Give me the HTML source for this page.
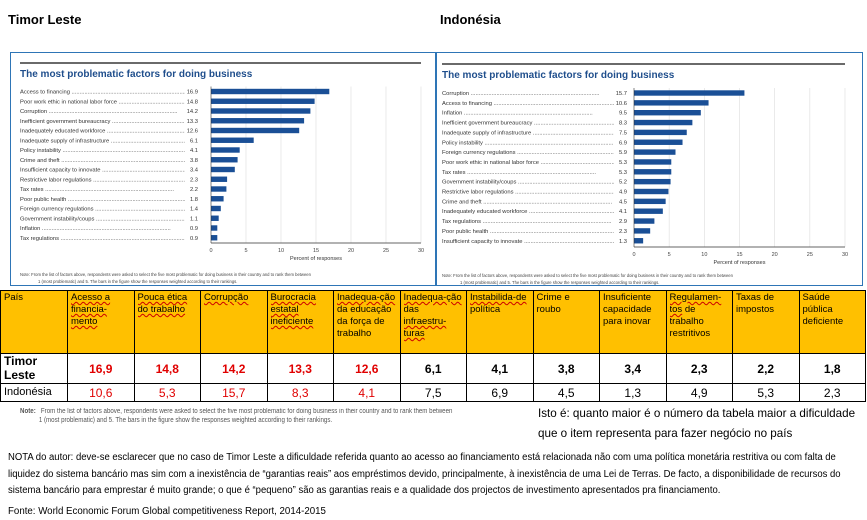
<!DOCTYPE html>
<html><head><meta charset="utf-8">
<style>
body{margin:0;width:867px;height:520px;background:#fff;position:relative;overflow:hidden;font-family:"Liberation Sans",sans-serif}
.abs{position:absolute;white-space:nowrap}
.h{font-weight:bold;font-size:13px}
.panel{position:absolute;border:1px solid #2e75b6;top:52px;height:232px}
.sq{display:inline-block;transform-origin:0 0}
table{position:absolute;left:0;top:290px;border-collapse:collapse;table-layout:fixed;width:865px;font-family:"Liberation Sans",sans-serif}
td{border:1px solid #000;vertical-align:top;padding:0 3px;font-size:9.5px;line-height:12px;overflow:hidden}
td>div{overflow:hidden}
tr.hd td{background:#ffc000}
tr.hd td>div{height:61px;padding-top:1px}
tr.hd td u{text-decoration:underline wavy #c00 1px}
td.v{text-align:center;vertical-align:middle;font-weight:bold;font-size:12px}
td.w{text-align:center;vertical-align:middle;font-size:12px;line-height:16px}
.r{color:#e00000}
</style></head><body>
<div class="abs h" style="left:8px;top:12px">Timor Leste</div>
<div class="abs h" style="left:440px;top:12px">Indonésia</div>
<div class="panel" style="left:10px;width:424px"></div>
<div class="panel" style="left:436px;width:425px"></div>
<svg id="chart" width="867" height="290" style="position:absolute;left:0;top:0"></svg>

<table>
<colgroup><col style="width:67px"><col span="12" style="width:66.5px"></colgroup>
<tr class="hd">
<td><div>País</div></td><td><div><u>Acesso a financia-mento</u></div></td><td><div><u>Pouca ética do trabalho</u></div></td><td><div><u>Corrupção</u></div></td><td><div><u>Burocracia estatal ineficiente</u></div></td><td><div><u>Inadequa-ção</u> da educação da força de trabalho</div></td><td><div><u>Inadequa-ção</u> das <u>infraestru-turas</u></div></td><td><div><u>Instabilida-de</u> política</div></td><td><div>Crime e roubo</div></td><td><div>Insuficiente capacidade para inovar</div></td><td><div><u>Regulamen-tos</u> de trabalho restritivos</div></td><td><div>Taxas de impostos</div></td><td><div>Saúde pública deficiente</div></td></tr>
<tr>
<td style="font-weight:bold;font-size:12px;line-height:14px"><div style="height:29px">Timor Leste</div></td><td class="v r">16,9</td><td class="v r">14,8</td><td class="v r">14,2</td><td class="v r">13,3</td><td class="v r">12,6</td><td class="v">6,1</td><td class="v">4,1</td><td class="v">3,8</td><td class="v">3,4</td><td class="v">2,3</td><td class="v">2,2</td><td class="v">1,8</td></tr>
<tr>
<td style="font-size:11px;line-height:16px"><div style="height:17px">Indonésia</div></td><td class="w r">10,6</td><td class="w r">5,3</td><td class="w r">15,7</td><td class="w r">8,3</td><td class="w r">4,1</td><td class="w">7,5</td><td class="w">6,9</td><td class="w">4,5</td><td class="w">1,3</td><td class="w">4,9</td><td class="w">5,3</td><td class="w">2,3</td></tr>
</table>

<div class="abs" style="left:20px;top:407px;font-size:7px;color:#555;line-height:9px"><span class="sq" style="transform:scaleX(0.88)"><b>Note:</b>&nbsp;&nbsp;&nbsp;From the list of factors above, respondents were asked to select the five most problematic for doing business in their country and to rank them between<br>&nbsp;&nbsp;&nbsp;&nbsp;&nbsp;&nbsp;&nbsp;&nbsp;&nbsp;&nbsp;&nbsp;1 (most problematic) and 5. The bars in the figure show the responses weighted according to their rankings.</span></div>
<div class="abs" style="left:538px;top:403px;font-size:12px;line-height:20px"><span class="sq" style="transform:scaleX(0.97)">Isto é: quanto maior é o número da tabela maior a dificuldade<br>que o item representa para fazer negócio no país</span></div>
<div class="abs" style="left:8px;top:450px;font-size:10px;line-height:16.5px"><span class="sq" style="transform:scaleX(0.95)">NOTA do autor: deve-se esclarecer que no caso de Timor Leste a dificuldade referida quanto ao acesso ao financiamento está relacionada não com uma política monetária restritiva ou com falta de<br>liquidez do sistema bancário mas sim com a inexistência de “garantias reais” aos empréstimos devido, principalmente, à inexistência de uma Lei de Terras. De facto, a disponibilidade de recursos do<br>sistema bancário para emprestar é muito grande; o que é “pequeno” são as garantias reais e a qualidade dos projectos de investimento apresentados pra financiamento.</span></div>
<div class="abs" style="left:8px;top:506px;font-size:10px"><span class="sq" style="transform:scaleX(0.97)">Fonte: World Economic Forum Global competitiveness Report, 2014-2015</span></div>

<script>
const timorLabels=["Access to financing","Poor work ethic in national labor force","Corruption","Inefficient government bureaucracy","Inadequately educated workforce","Inadequate supply of infrastructure","Policy instability","Crime and theft","Insufficient capacity to innovate","Restrictive labor regulations","Tax rates","Poor public health","Foreign currency regulations","Government instability/coups","Inflation","Tax regulations"];
const timorValues=[16.9,14.8,14.2,13.3,12.6,6.1,4.1,3.8,3.4,2.3,2.2,1.8,1.4,1.1,0.9,0.9];
const indoLabels=["Corruption","Access to financing","Inflation","Inefficient government bureaucracy","Inadequate supply of infrastructure","Policy instability","Foreign currency regulations","Poor work ethic in national labor force","Tax rates","Government instability/coups","Restrictive labor regulations","Crime and theft","Inadequately educated workforce","Tax regulations","Poor public health","Insufficient capacity to innovate"];
const indoValues=[15.7,10.6,9.5,8.3,7.5,6.9,5.9,5.3,5.3,5.2,4.9,4.5,4.1,2.9,2.3,1.3];
const tickLabels=[0,5,10,15,20,25,30];
const NS="http://www.w3.org/2000/svg";
const svg=document.getElementById('chart');
function mk(tag,attrs,txt){const e=document.createElementNS(NS,tag);for(const k in attrs)e.setAttribute(k,attrs[k]);if(txt!==undefined)e.textContent=txt;svg.appendChild(e);return e;}
function draw(labels,values,o,prefix){
  const x=v=>o.x0+(o.x1-o.x0)*v/30;
  const y=i=>o.y0+i*o.dy;
  let e=mk('line',{x1:o.lx,x2:o.x1,y1:o.rule,y2:o.rule,stroke:'#111','stroke-width':1.3});
  
  
  e=mk('text',{x:o.lx,y:o.rule+14,'font-size':10,'font-weight':'bold',fill:'#1f4e8c'},'The most problematic factors for doing business');
  
  
  values.forEach((v,i)=>{
    const l=mk('text',{x:o.lx,y:y(i)+2,'font-size':5.8,fill:'#333'},labels[i]+' '+'.'.repeat(80));
    
    
    const m=mk('rect',{x:o.vx-13,y:y(i)-4,width:14,height:8,fill:'#fff'});
    
    
    const t=mk('text',{x:o.vx,y:y(i)+2,'font-size':5.8,fill:'#333','text-anchor':'end'},v.toFixed(1));
    
    
  });
  const cover=mk('rect',{x:o.vx+1,y:o.y0-6,width:x(0)-o.vx+40,height:o.dy*16+4,fill:'#fff'});
  
  
  tickLabels.forEach(t=>{
    if(t>0){const g=mk('line',{x1:x(t),x2:x(t),y1:o.y0-5,y2:o.axis,stroke:'#ddd','stroke-width':0.6});
    
    }
    const tl=mk('text',{x:x(t),y:o.axis+9,'font-size':5.5,fill:'#444','text-anchor':'middle'},t);
    
    
  });
  values.forEach((v,i)=>{
    const b=mk('rect',{x:x(0),y:y(i)-2.7,width:x(v)-x(0),height:5.4,fill:'#1a4f96'});
    
    
  });
  e=mk('line',{x1:x(0),x2:x(0),y1:o.y0-5,y2:o.axis,stroke:'#333','stroke-width':0.6});
  
  
  e=mk('line',{x1:x(0),x2:o.x1,y1:o.axis,y2:o.axis,stroke:'#333','stroke-width':0.8});
  
  
  e=mk('text',{x:x(15),y:o.axis+17,'font-size':5.5,fill:'#333','text-anchor':'middle'},'Percent of responses');
  
  
  e=mk('text',{x:o.lx,y:o.note,'font-size':4.2,fill:'#444'},'Note:    From the list of factors above, respondents were asked to select the five most problematic for doing business in their country and to rank them between');
  
  
  e=mk('text',{x:o.lx+18,y:o.note+7,'font-size':4.2,fill:'#444'},'1 (most problematic) and 5. The bars in the figure show the responses weighted according to their rankings.');
  
  
}
draw(timorLabels,timorValues,{lx:20,vx:198,x0:211,x1:421,y0:91.5,dy:9.75,rule:63,axis:243,note:276},'timor');
draw(indoLabels,indoValues,{lx:442,vx:627,x0:634,x1:845,y0:93,dy:9.85,rule:64,axis:247,note:277},'indonesia');
</script>
</body></html>
